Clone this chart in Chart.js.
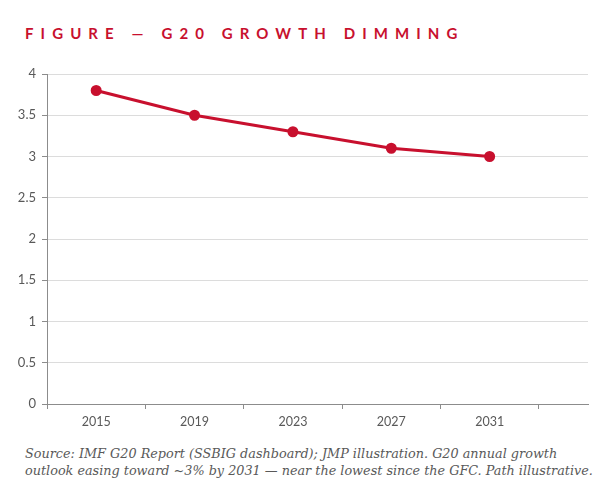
<!DOCTYPE html>
<html>
<head>
<meta charset="utf-8">
<script src="https://cdn.jsdelivr.net/npm/chart.js@4/dist/chart.umd.min.js"></script>
<style>
  html, body { margin: 0; padding: 0; background: #fff; }
  #wrap { position: relative; width: 604px; height: 493px; overflow: hidden; }
  #title { position: absolute; left: 25px; top: 24px; font-family: Lato, "Open Sans", sans-serif; font-weight: 700; font-size: 15px; letter-spacing: 7.1px; color: #c8102e; white-space: nowrap; }
  #cv { position: absolute; left: 0; top: 60px; }
  #caption { position: absolute; left: 25px; top: 445px; font-family: "DejaVu Serif", serif; font-style: italic; font-size: 12.8px; line-height: 17px; color: #595959; white-space: nowrap; }
</style>
</head>
<body>
<div id="wrap">
  <div id="title">FIGURE — G20 GROWTH DIMMING</div>
  <canvas id="cv" width="604" height="375" style="width:604px;height:375px"></canvas>
  <div id="caption">Source: IMF G20 Report (SSBIG dashboard); JMP illustration. G20 annual growth<br>outlook easing toward ~3% by 2031 — near the lowest since the GFC. Path illustrative.</div>
</div>
<script>
const categories = ["2015", "2019", "2023", "2027", "2031"];
const growth = [3.8, 3.5, 3.3, 3.1, 3.0];
const yTicks = [0, 0.5, 1, 1.5, 2, 2.5, 3, 3.5, 4];

const RED = '#c8102e';
const AXIS = '#8c8c8c';
const GRID = '#dcdcdc';
const TEXT = '#595959';

const points = categories.map((c, i) => ({ x: i, y: growth[i] }));

new Chart(document.getElementById('cv'), {
  type: 'line',
  data: {
    datasets: [{
      data: points,
      borderColor: RED,
      backgroundColor: RED,
      borderWidth: 3,
      pointRadius: 4,
      pointHoverRadius: 4,
      pointBackgroundColor: RED,
      pointBorderColor: RED,
      tension: 0,
      fill: false
    }]
  },
  options: {
    responsive: false,
    animation: false,
    devicePixelRatio: 1,
    layout: { padding: { top: 14, right: 16, left: 0, bottom: 0 } },
    plugins: { legend: { display: false }, tooltip: { enabled: false }, title: { display: false } },
    scales: {
      x: {
        type: 'linear',
        min: -0.5,
        max: 5,
        afterBuildTicks: (scale) => {
          const t = [];
          for (let k = -1; k <= 10; k++) t.push({ value: k / 2 });
          scale.ticks = t;
        },
        afterFit: (scale) => { scale.height = 31; },
        border: { display: true, color: AXIS, width: 1 },
        grid: {
          drawOnChartArea: false,
          drawTicks: true,
          tickLength: 5,
          tickColor: (ctx) => (ctx.tick && Math.abs(ctx.tick.value % 1) > 0.01) ? AXIS : 'rgba(0,0,0,0)',
          color: 'rgba(0,0,0,0)'
        },
        ticks: {
          autoSkip: false,
          maxRotation: 0,
          padding: 5,
          color: TEXT,
          font: { family: 'Lato, "Open Sans", sans-serif', size: 12.5 },
          callback: (v) => {
            const i = Math.round(v);
            return (Math.abs(v - i) < 0.01 && i >= 0 && i < categories.length) ? categories[i] : '';
          }
        }
      },
      y: {
        min: 0,
        max: 4,
        afterBuildTicks: (scale) => { scale.ticks = yTicks.map(v => ({ value: v })); },
        afterFit: (scale) => { scale.width = 47; },
        border: { display: true, color: AXIS, width: 1 },
        grid: {
          color: (ctx) => ctx.tick && ctx.tick.value === 0 ? 'rgba(0,0,0,0)' : GRID,
          tickColor: AXIS,
          tickLength: 5,
          drawTicks: true
        },
        ticks: {
          padding: 6,
          color: TEXT,
          font: { family: 'Lato, "Open Sans", sans-serif', size: 13 },
          callback: (v) => String(v)
        }
      }
    }
  }
});
</script>
</body>
</html>
